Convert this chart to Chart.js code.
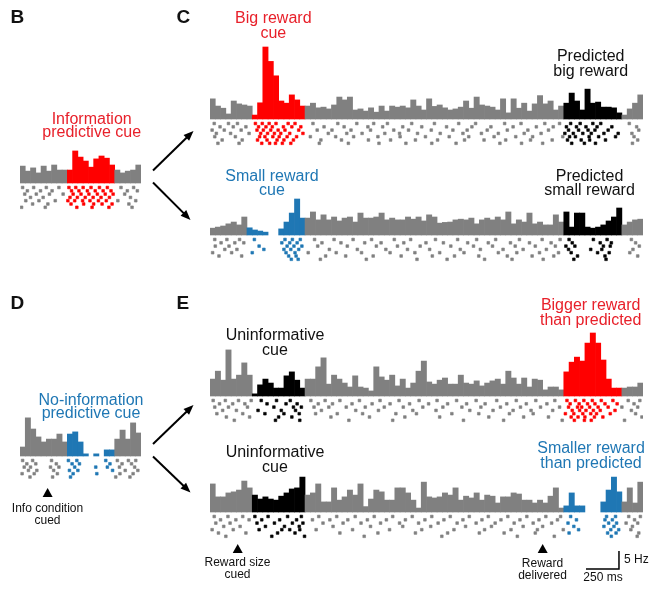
<!DOCTYPE html>
<html><head><meta charset="utf-8">
<script src="https://cdn.jsdelivr.net/npm/chart.js@4/dist/chart.umd.min.js"></script>
<style>
html,body{margin:0;padding:0;background:#fff;}
#fig{position:relative;width:657px;height:610px;overflow:hidden;font-family:'Liberation Sans',Arial,sans-serif;}
#fig canvas{position:absolute;}
.lbl{position:absolute;white-space:nowrap;}
#arrows{position:absolute;left:0;top:0;}
</style></head><body><div id="fig"></div>
<script>
// ---------- DATA (firing rate per 40 ms bin, Hz; raster spike times in bin units per trial row) ----------
const BIN_MS = 40;

const bRate = [4.7,3.3,4.2,2.8,4.7,3.3,5.0,3.6,3.6, 3.6,8.9,7.2,6.1,4.4,6.7,7.5,6.9,5.0, 3.6,2.8,3.3,3.6,5.0];
const bRaster = [
  [0.5,2.6,5.0,7.4,9.3,10.6,12.0,13.5,15.1,16.6,19.2,21.6],
  [1.4,3.9,6.1,9.8,11.2,12.8,14.3,15.8,17.3,20.4,22.3],
  [0.9,3.1,5.6,8.2,10.1,11.6,13.1,14.7,16.2,17.7,19.9],
  [2.0,4.4,9.5,10.9,12.4,13.9,15.4,17.0,21.0],
  [1.1,3.6,6.7,9.1,10.4,11.9,13.3,14.9,16.4,18.6,22.0],
  [2.4,5.3,9.7,12.1,14.0,15.6,17.5,20.7],
  [0.3,4.8,10.8,13.7,16.9,21.3]
];

const cTopRate = [5.6,3.6,3.0,1.4,5.0,4.2,3.9,3.6,
  1.1,4.5,20.0,16.0,12.0,5.0,4.4,6.7,5.3,3.6,
  3.6,4.4,3.1,3.3,2.8,3.9,6.1,5.3,6.1,2.5,2.8,2.2,3.1,1.9,3.6,2.2,3.6,3.3,3.6,3.1,5.3,3.6,2.5,
  5.6,3.5,3.9,3.1,2.5,2.8,3.3,5.0,3.0,6.1,3.9,3.6,3.3,2.5,5.6,1.7,5.6,3.0,4.4,2.2,4.2,6.5,4.2,5.0,2.5,3.6,
  4.4,7.2,5.0,2.5,8.3,4.4,4.7,3.3,3.3,3.1,1.7,
  1.1,2.8,4.4,6.7];
const cTopRaster = [
  [0.8,3.5,5.2,8.6,9.9,11.2,12.5,14.8,16.1,19.5,24.2,27.8,31.0,33.6,38.2,42.5,47.1,50.3,55.8,58.9,63.4,66.2,68.3,70.1,72.5,74.0,79.4],
  [1.9,4.4,6.8,9.2,10.6,11.8,13.9,15.5,17.2,21.6,25.4,29.9,32.7,36.5,40.1,44.8,49.6,53.2,57.4,61.8,65.0,67.5,69.4,71.2,73.3,76.1,80.8],
  [0.4,2.7,5.9,8.9,10.1,11.5,12.9,14.2,16.8,20.3,23.1,26.7,30.4,34.8,37.6,41.9,46.0,48.7,52.5,56.3,60.2,64.1,67.9,69.8,71.6,72.9,75.4,81.2],
  [1.2,3.9,7.4,9.6,10.9,12.2,13.4,15.1,17.6,22.4,25.9,28.8,33.1,35.9,39.3,43.6,47.9,51.4,54.6,59.5,62.7,67.2,68.8,70.6,72.2,74.6,77.3,79.9],
  [0.9,4.8,9.4,10.4,11.9,13.1,14.6,16.4,19.0,23.8,27.2,31.8,36.0,40.8,45.3,49.0,53.8,57.9,61.1,66.8,68.1,69.2,71.8,73.6,76.8,80.3],
  [2.3,6.1,9.0,10.8,12.7,14.0,15.8,21.0,24.9,30.0,34.2,38.9,43.1,48.2,51.9,56.0,60.7,64.8,67.7,70.3,71.9,74.9,81.0],
  [1.5,5.5,9.8,11.3,12.4,13.7,15.3,20.7,26.2,32.0,37.1,42.0,46.6,54.9,59.0,63.0,68.5,70.9,73.0,80.0]
];

const cBotRate = [1.9,2.2,2.5,3.1,3.6,2.8,5.0,
  2.0,1.4,1.1,0.8, null,null, 1.7,3.6,6.1,10.0,4.7,
  4.7,6.4,4.2,5.6,4.2,5.0,3.9,4.7,5.0,3.6,6.1,4.7,4.7,5.0,6.1,4.2,4.7,4.2,4.2,5.0,4.4,5.0,3.9,
  5.6,5.0,3.3,3.5,3.6,4.2,4.4,4.2,4.7,3.1,4.2,4.7,4.2,5.0,4.2,6.4,3.1,4.2,3.6,6.1,3.1,3.6,2.8,2.8,5.6,3.6,
  6.4,2.2,6.1,6.1,2.2,1.9,2.2,2.8,3.9,5.0,7.5,
  2.8,3.6,4.2,4.4];
const cBotRaster = [
  [0.9,3.2,5.6,8.4,14.2,15.6,17.1,19.8,23.5,27.1,30.6,34.9,38.0,42.7,46.9,50.5,54.1,58.6,62.9,66.3,68.0,72.6,75.2,79.8],
  [2.1,4.7,6.4,13.6,15.1,16.5,21.2,24.8,29.3,32.4,36.7,40.9,44.2,48.8,52.7,56.9,60.5,64.6,68.6,73.9,76.0,80.6],
  [1.0,3.6,9.3,14.6,15.9,17.4,20.4,26.0,31.5,35.5,39.8,45.6,49.9,53.5,57.8,61.6,65.4,67.4,69.1,74.5,75.8,81.3],
  [2.8,5.1,10.2,14.0,15.3,16.8,22.6,27.9,33.3,37.4,41.6,47.4,51.2,55.5,59.3,63.7,67.9,72.1,74.2,80.1],
  [0.5,4.1,8.0,14.4,16.1,18.6,23.9,28.7,34.1,38.8,43.5,48.1,54.6,58.1,62.4,66.0,68.4,73.4,75.6,79.5],
  [1.7,6.0,14.9,16.3,21.9,25.7,30.9,36.2,42.1,46.3,50.9,56.3,61.0,65.1,69.6,74.8,81.0],
  [15.4,16.7,20.9,29.6,39.2,44.9,52.0,57.2,63.1,68.9,75.0]
];

const dRate = [2.5,10.6,7.5,5.3,3.9,4.7,4.7,6.1,3.9, 6.1,6.7,3.9,0.6,null,0.6,null,1.7,1.7, 4.7,7.2,4.7,9.2,6.4];
const dRaster = [
  [0.5,2.4,6.0,9.2,10.8,16.3,18.5,20.6,22.0],
  [1.3,3.0,6.9,9.9,11.3,17.1,19.4,21.2],
  [0.8,2.0,5.8,7.4,10.4,14.4,16.6,18.9,21.8],
  [1.6,3.2,6.4,9.4,11.0,17.6,20.0,22.4],
  [0.4,2.7,7.1,10.1,14.6,19.0,21.5],
  [1.9,6.2,9.6,18.2,20.9]
];

const eTopRate = [4.7,6.9,4.4,12.8,4.7,5.8,9.2,5.8,
  0.6,3.1,4.7,3.6,2.2,2.2,5.6,6.7,4.4,2.2,
  4.7,4.7,8.1,10.6,3.3,5.8,4.7,3.6,2.5,5.6,2.5,2.2,1.4,8.1,5.3,4.4,5.8,2.8,4.7,2.2,3.6,6.9,9.7,
  3.9,3.3,4.4,5.0,3.3,3.3,5.8,3.6,3.3,4.2,2.8,3.6,4.2,4.7,3.3,6.9,5.0,3.3,5.0,2.5,4.7,4.4,1.7,2.5,2.5,1.7,
  6.7,9.4,10.8,9.7,14.7,17.5,14.7,10.0,4.7,2.2,2.2,
  2.2,2.5,2.5,3.6];
const eTopRaster = [
  [0.6,2.9,5.4,7.8,9.7,12.6,15.2,19.1,21.8,24.6,28.3,32.2,35.8,39.6,43.0,46.7,50.4,54.3,58.0,61.7,65.3,67.6,69.2,70.8,72.4,74.1,76.3,79.2,81.4],
  [1.8,4.3,6.6,10.8,14.4,16.5,20.5,23.2,26.9,30.7,34.1,37.8,41.4,45.0,48.6,52.1,56.2,59.9,63.8,68.2,69.9,71.5,72.9,74.8,77.1,80.3],
  [0.9,3.5,7.1,12.1,15.8,17.3,19.7,22.5,25.8,29.4,33.0,36.6,40.3,44.1,47.7,51.3,55.0,58.8,62.6,66.2,67.9,69.6,70.4,71.9,73.5,75.4,78.0,81.0],
  [2.4,5.0,9.1,13.5,16.2,21.1,27.6,31.9,38.4,42.8,49.2,53.6,57.4,60.8,64.9,68.6,70.0,71.2,72.6,73.9,76.7,79.8],
  [1.3,6.2,10.4,14.0,16.9,20.0,24.1,28.9,35.2,39.1,45.8,50.9,56.7,61.2,67.3,68.9,70.6,72.1,73.2,75.8,80.6],
  [3.1,7.5,13.0,15.5,22.9,30.2,36.9,43.5,52.8,59.4,64.1,68.4,69.7,71.0,72.8,74.4,81.8],
  [4.6,12.4,17.0,26.3,34.6,48.0,55.6,66.7,69.0,70.9,72.2,78.5]
];

const eBotRate = [7.8,4.2,4.2,5.3,5.6,6.1,8.6,6.7,
  4.7,3.6,4.2,3.6,3.3,4.4,5.3,6.4,6.7,9.7,
  4.7,5.3,7.8,2.8,2.8,6.7,3.3,4.2,6.1,4.7,7.8,1.5,3.6,6.1,5.6,3.3,3.3,6.7,6.7,5.3,3.3,1.1,8.3,
  4.2,3.9,4.2,5.3,4.7,6.7,3.3,4.4,3.9,5.3,3.3,4.7,4.4,2.5,4.2,4.2,5.3,5.0,3.3,3.3,2.5,3.3,2.5,4.4,6.7,1.1,
  1.7,5.3,1.7,1.7,null,null,null,2.8,6.1,9.7,5.6,
  2.8,6.7,2.5,8.3];
const eBotRaster = [
  [0.8,3.4,6.2,8.5,11.0,14.7,17.3,20.6,24.0,27.5,31.1,34.6,38.3,42.0,45.5,49.1,52.7,56.4,60.0,63.6,66.4,68.3,75.1,76.8,79.3,81.5],
  [2.0,4.9,7.4,9.8,13.2,16.4,19.4,22.7,26.1,29.8,33.4,37.0,40.7,44.3,47.9,51.5,55.1,58.7,62.3,65.8,69.4,74.8,76.2,80.4],
  [1.1,3.8,8.9,12.2,15.6,17.6,21.4,25.2,28.6,32.3,35.9,39.5,43.2,46.8,50.4,54.0,57.6,61.2,64.7,67.8,75.5,77.0,78.8,81.0],
  [2.6,5.7,10.5,14.1,16.9,23.3,30.4,36.5,41.8,48.4,53.3,59.3,63.0,68.9,74.6,76.5,80.0],
  [0.4,4.4,9.3,13.6,15.1,17.0,20.1,27.0,34.0,40.1,46.2,52.0,57.0,62.0,66.9,69.8,75.9,77.4,79.7],
  [1.6,6.8,12.8,16.1,24.6,31.8,38.9,45.0,51.0,55.7,61.6,68.0,75.3,76.9,81.2],
  [3.0,11.7,17.9,29.2,43.9,58.2,65.2,76.0,80.9]
];

// event times (ms from start of panel window) and scale bar size
const infoCueMs = [210];
const eBotEventsMs = [210, 2520];
const scaleBarMs = 250;
const scaleBarHz = 5;

// ---------- STYLE / LAYOUT ----------
const RED = '#ff0000', BLUE = '#1f77b4', BLACK = '#000000', GRAY = '#808080';
const TXT_RED = '#e8202a', TXT_BLUE = '#1f77b4', TXT_BLACK = '#111111';
const PX_PER_BIN = 5.28, PX_PER_HZ = 3.6;
const RASTER_TOP = 4.5, RASTER_STEP = 3.3;
const TRI_TOP = 32, TRI_H = 9, TRI_HALF = 5;

const fig = document.getElementById('fig');

const markPlugin = {
  id: 'marks',
  afterDatasetsDraw(chart, args, opts) {
    const ctx = chart.ctx, x = chart.scales.x, y = chart.scales.y;
    const base = y.getPixelForValue(0);
    ctx.save();
    ctx.fillStyle = '#000';
    (opts.events || []).forEach(ms => {
      const px = x.getPixelForValue(ms / BIN_MS);
      ctx.beginPath();
      ctx.moveTo(px, base + TRI_TOP);
      ctx.lineTo(px + TRI_HALF, base + TRI_TOP + TRI_H);
      ctx.lineTo(px - TRI_HALF, base + TRI_TOP + TRI_H);
      ctx.closePath();
      ctx.fill();
    });
    if (opts.scaleBar) {
      const sb = opts.scaleBar;
      const x2 = x.getPixelForValue(sb.endMs / BIN_MS);
      const x1 = x.getPixelForValue((sb.endMs - scaleBarMs) / BIN_MS);
      const yb = y.getPixelForValue(sb.atHz);
      const yt = y.getPixelForValue(sb.atHz + scaleBarHz);
      ctx.strokeStyle = '#000';
      ctx.lineWidth = 1.5;
      ctx.beginPath();
      ctx.moveTo(x1, yb); ctx.lineTo(x2, yb); ctx.lineTo(x2, yt);
      ctx.stroke();
    }
    ctx.restore();
  }
};

function makePanel(p) {
  const n = p.rates.length;
  const w = Math.round(n * PX_PER_BIN), h = p.above + p.below;
  const cv = document.createElement('canvas');
  cv.width = w; cv.height = h;
  cv.style.left = p.left + 'px'; cv.style.top = (p.base - p.above) + 'px';
  cv.style.width = w + 'px'; cv.style.height = h + 'px';
  fig.appendChild(cv);
  const colorAt = v => { for (const r of p.regions) if (v >= r[0] && v < r[1]) return r[2]; return GRAY; };
  const bars = p.rates.map((v, i) => ({x: i + 0.5, y: v}));
  const dots = [];
  p.raster.forEach((row, r) => row.forEach(t => dots.push({x: t, y: -(RASTER_TOP + r * RASTER_STEP) / PX_PER_HZ})));
  new Chart(cv, {
    type: 'bar',
    data: {datasets: [
      {type: 'bar', data: bars, backgroundColor: c => colorAt(c.dataIndex + 0.5), borderWidth: 0,
       barPercentage: 1, categoryPercentage: 1},
      {type: 'scatter', data: dots, pointStyle: 'rect', pointRotation: 0, pointRadius: 1.9,
       pointBorderWidth: 0.6, pointBorderColor: c => colorAt(c.raw ? c.raw.x : 0),
       pointBackgroundColor: c => colorAt(c.raw ? c.raw.x : 0)}
    ]},
    options: {
      responsive: false, animation: false, events: [], layout: {padding: 0, autoPadding: false},
      plugins: {legend: {display: false}, tooltip: {enabled: false},
                marks: {events: p.events || [], scaleBar: p.scaleBar || null}},
      scales: {
        x: {type: 'linear', display: false, min: 0, max: n, offset: false},
        y: {type: 'linear', display: false, min: -p.below / PX_PER_HZ, max: p.above / PX_PER_HZ}
      }
    },
    plugins: [markPlugin]
  });
}

const panels = [
  {rates: bRate, raster: bRaster, left: 20, base: 183, above: 50, below: 32, regions: [[9, 18, RED]]},
  {rates: cTopRate, raster: cTopRaster, left: 210, base: 119, above: 80, below: 32, regions: [[8, 18, RED], [67, 78, BLACK]]},
  {rates: cBotRate, raster: cBotRaster, left: 210, base: 235, above: 80, below: 32, regions: [[7, 18, BLUE], [67, 78, BLACK]]},
  {rates: dRate, raster: dRaster, left: 20, base: 456, above: 50, below: 45, regions: [[9, 18, BLUE]], events: infoCueMs},
  {rates: eTopRate, raster: eTopRaster, left: 210, base: 396, above: 80, below: 32, regions: [[8, 18, BLACK], [67, 78, RED]]},
  {rates: eBotRate, raster: eBotRaster, left: 210, base: 512, above: 80, below: 80, regions: [[8, 18, BLACK], [67, 78, BLUE]],
   events: eBotEventsMs, scaleBar: {endMs: 3098, atHz: -15.8}}
];
panels.forEach(makePanel);

// ---------- ARROWS ----------
const NS = 'http://www.w3.org/2000/svg';
const svg = document.createElementNS(NS, 'svg');
svg.setAttribute('id', 'arrows'); svg.setAttribute('width', 657); svg.setAttribute('height', 610);
fig.appendChild(svg);
[[153, 170.5, 193.5, 131], [153, 182.5, 190.5, 220], [153, 444, 193.5, 405], [153, 456.5, 190.5, 492.5]].forEach(a => {
  const [x1, y1, x2, y2] = a;
  const dx = x2 - x1, dy = y2 - y1, L = Math.hypot(dx, dy), ux = dx / L, uy = dy / L;
  const hl = 10, hw = 4;
  const bx = x2 - ux * hl, by = y2 - uy * hl;
  const line = document.createElementNS(NS, 'line');
  line.setAttribute('x1', x1); line.setAttribute('y1', y1);
  line.setAttribute('x2', bx + ux); line.setAttribute('y2', by + uy);
  line.setAttribute('stroke', '#000'); line.setAttribute('stroke-width', 2);
  svg.appendChild(line);
  const head = document.createElementNS(NS, 'polygon');
  head.setAttribute('points', `${x2},${y2} ${bx - uy * hw},${by + ux * hw} ${bx + uy * hw},${by - ux * hw}`);
  head.setAttribute('fill', '#000');
  svg.appendChild(head);
});

// ---------- TEXT ----------
function label(html, x, baseline, size, lh, color, weight, align) {
  const d = document.createElement('div');
  d.className = 'lbl';
  d.innerHTML = html;
  const top = baseline - ((lh - 1.117 * size) / 2 + 0.905 * size);
  d.style.top = top + 'px';
  d.style.fontSize = size + 'px';
  d.style.lineHeight = lh + 'px';
  d.style.color = color;
  d.style.fontWeight = weight || 'normal';
  if (align === 'left') { d.style.left = x + 'px'; d.style.textAlign = 'left'; }
  else { d.style.left = x + 'px'; d.style.transform = 'translateX(-50%)'; d.style.textAlign = 'center'; }
  fig.appendChild(d);
}
label('B', 10.5, 22.7, 19, 19, TXT_BLACK, 'bold', 'left');
label('C', 176.5, 22.7, 19, 19, TXT_BLACK, 'bold', 'left');
label('D', 10.5, 309.3, 19, 19, TXT_BLACK, 'bold', 'left');
label('E', 176.5, 309.3, 19, 19, TXT_BLACK, 'bold', 'left');
label('Information<br>predictive cue', 91.7, 124, 16, 13.5, TXT_RED);
label('Big reward<br>cue', 273.3, 23, 16, 15, TXT_RED);
label('Predicted<br>big reward', 590.7, 61, 16, 15, TXT_BLACK);
label('Small reward<br>cue', 272, 182, 16, 14, TXT_BLUE);
label('Predicted<br>small reward', 589.5, 182, 16, 14, TXT_BLACK);
label('No-information<br>predictive cue', 91, 405, 16, 13.5, TXT_BLUE);
label('Info condition<br>cued', 47.5, 513, 12, 11.5, TXT_BLACK);
label('Uninformative<br>cue', 275, 340, 16, 15, TXT_BLACK);
label('Bigger reward<br>than predicted', 590.7, 311, 16, 14.5, TXT_RED);
label('Uninformative<br>cue', 275, 457.5, 16, 15, TXT_BLACK);
label('Smaller reward<br>than predicted', 591, 453, 16, 15, TXT_BLUE);
label('Reward size<br>cued', 237.5, 567, 12, 11.5, TXT_BLACK);
label('Reward<br>delivered', 542.5, 567, 12, 12, TXT_BLACK);
label('5 Hz', 624, 563.3, 12, 12, TXT_BLACK, 'normal', 'left');
label('250 ms', 603, 580.7, 12, 12, TXT_BLACK);
</script></body></html>
